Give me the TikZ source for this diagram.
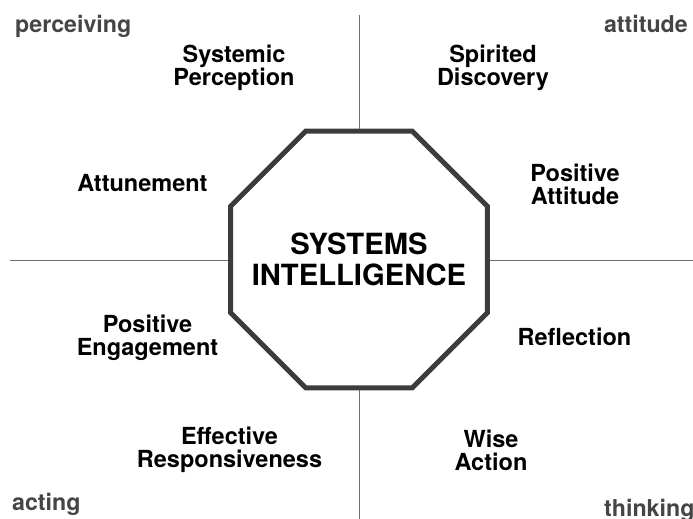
\documentclass[tikz,border=0pt]{standalone}
\usepackage{fontspec}
\setmainfont{TeX Gyre Heros}
\usetikzlibrary{shapes.geometric}
\definecolor{octline}{HTML}{3C3C3C}
\definecolor{cornertext}{HTML}{454545}
\definecolor{axisline}{HTML}{6E6E6E}
\begin{document}
\begin{tikzpicture}[x=1pt,y=-1pt,
  axis/.style={axisline, line width=0.7pt},
  quality/.style={font=\fontsize{23.5}{23}\selectfont\bfseries, align=center, anchor=base, inner sep=0pt},
  corner/.style={font=\fontsize{23.2}{24}\selectfont\bfseries, text=cornertext, inner sep=0pt},
  core/.style={draw=octline, fill=white, line width=5pt, regular polygon, regular polygon sides=8,
    minimum size=278pt, inner sep=0pt},
  coretext/.style={inner sep=0pt, font=\fontsize{29.2}{31.5}\selectfont\bfseries, align=center}]
\useasboundingbox[fill=white] (0,0) rectangle (693,519);

% central octagon and its title
\node[core] (si) at (359,259.5) {};
\node[coretext] (title) at (si.center) {SYSTEMS\\INTELLIGENCE};

% axis ends
\coordinate (top) at (359,15);
\coordinate (bottom) at (359,519);
\coordinate (left) at (10,260.5);
\coordinate (right) at (693,260.5);

% quadrant axes
\draw[axis] (top) -- (si.north);
\draw[axis] (si.south) -- (bottom);
\draw[axis] (left) -- (si.west |- left);
\draw[axis] (si.east |- right) -- (right);

% corner labels
\node[corner, anchor=base west] (perc) at (15,33) {perceiving};
\node[corner, anchor=base east] (att) at (688,33) {attitude};
\node[corner, anchor=base west] (act) at (12,510) {acting};
\node[corner, anchor=base west] (think) at (604,516) {thinking};

% qualities around the octagon (anchored at the last line's baseline)
\node[quality] (sp) at (234,85) {Systemic\\Perception};
\node[quality] (sd) at (493,85) {Spirited\\Discovery};
\node[quality] (at) at (142.5,191) {Attunement};
\node[quality] (pa) at (575,204) {Positive\\Attitude};
\node[quality] (pe) at (147.5,355) {Positive\\Engagement};
\node[quality] (re) at (574.5,345) {Reflection};
\node[quality] (er) at (229.5,467) {Effective\\Responsiveness};
\node[quality] (wa) at (491,470) {Wise\\Action};
\end{tikzpicture}
\end{document}
